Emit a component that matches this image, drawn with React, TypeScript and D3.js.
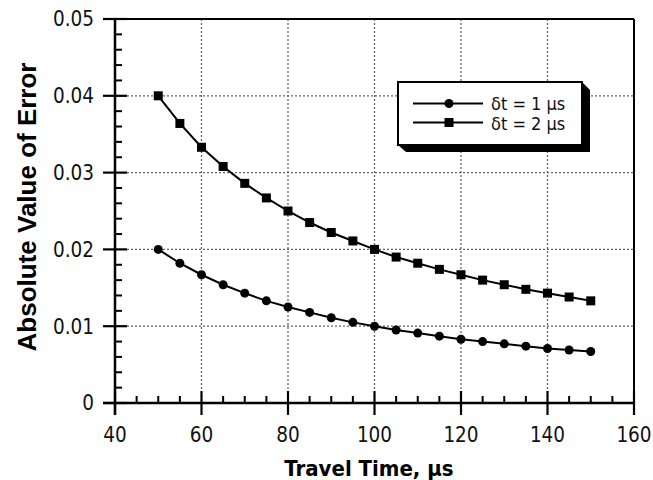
import React from "react";
import * as d3 from "d3";

const travelTime = [50, 55, 60, 65, 70, 75, 80, 85, 90, 95, 100, 105, 110, 115, 120, 125, 130, 135, 140, 145, 150];
const errDt1 = [0.02, 0.0182, 0.0167, 0.0154, 0.0143, 0.0133, 0.0125, 0.0118, 0.0111, 0.0105, 0.01, 0.0095, 0.0091, 0.0087, 0.0083, 0.008, 0.0077, 0.0074, 0.0071, 0.0069, 0.0067];
const errDt2 = [0.04, 0.0364, 0.0333, 0.0308, 0.0286, 0.0267, 0.025, 0.0235, 0.0222, 0.0211, 0.02, 0.019, 0.0182, 0.0174, 0.0167, 0.016, 0.0154, 0.0148, 0.0143, 0.0138, 0.0133];
const xTicks = [40, 60, 80, 100, 120, 140, 160];
const yTicks = [0, 0.01, 0.02, 0.03, 0.04, 0.05];
const yTickLabels = ["0", "0.01", "0.02", "0.03", "0.04", "0.05"];
const seriesNames = ["δt = 1 µs", "δt = 2 µs"];

const W = 653, H = 480;
const L = 115, R = 634, T = 19, B = 403;
const FONT = "'DejaVu Sans Condensed', 'DejaVu Sans', sans-serif";

export default function App() {
  const x = d3.scaleLinear().domain([40, 160]).range([L, R]);
  const y = d3.scaleLinear().domain([0, 0.05]).range([B, T]);
  const mk = d3.line<number>().x((_, i) => x(travelTime[i])).y((d) => y(d));
  const path1 = mk(errDt1) || "";
  const path2 = mk(errDt2) || "";
  const xMinor = d3.range(40, 160.001, 5).filter((v) => v % 20 !== 0);
  const yMinor = d3.range(0, 0.0501, 0.002).filter((v) => Math.abs(v / 0.01 - Math.round(v / 0.01)) > 1e-6);

  const lx0 = 398, ly0 = 82, lx1 = 582, ly1 = 145;
  return (
    <div style={{ position: "absolute", left: 0, top: 0 }}>
      <svg width={W} height={H} style={{ display: "block", background: "#fff" }}>
        {/* grid */}
        {xTicks.slice(1, -1).map((t) => (
          <line key={"gx" + t} x1={x(t)} x2={x(t)} y1={T} y2={B} stroke="#666" strokeWidth={1.3} strokeDasharray="2,2" />
        ))}
        {yTicks.slice(1, -1).map((t) => (
          <line key={"gy" + t} x1={L} x2={R} y1={y(t)} y2={y(t)} stroke="#666" strokeWidth={1.3} strokeDasharray="2,2" />
        ))}
        {/* frame */}
        <line x1={L - 12} x2={R} y1={T} y2={T} stroke="#000" strokeWidth={2} />
        <line x1={R} x2={R} y1={T} y2={B + 12} stroke="#000" strokeWidth={2} />
        <line x1={L} x2={L} y1={T} y2={B + 12} stroke="#000" strokeWidth={2.5} />
        <line x1={L - 12} x2={R} y1={B} y2={B} stroke="#000" strokeWidth={2.5} />
        {/* major ticks */}
        {xTicks.map((t) => (
          <line key={"xt" + t} x1={x(t)} x2={x(t)} y1={B - 12} y2={B + 12} stroke="#000" strokeWidth={2.2} />
        ))}
        {yTicks.map((t) => (
          <line key={"yt" + t} x1={L - 12} x2={L + 12} y1={y(t)} y2={y(t)} stroke="#000" strokeWidth={2.2} />
        ))}
        {xMinor.map((t) => (
          <line key={"xm" + t} x1={x(t)} x2={x(t)} y1={B - 7} y2={B} stroke="#000" strokeWidth={2} />
        ))}
        {yMinor.map((t) => (
          <line key={"ym" + t} x1={L} x2={L + 7} y1={y(t)} y2={y(t)} stroke="#000" strokeWidth={2} />
        ))}
        {/* tick labels */}
        {xTicks.map((t) => (
          <text key={"xl" + t} x={x(t)} y={442} textAnchor="middle" fontFamily={FONT} fontSize={20.5} fill="#111">
            {t}
          </text>
        ))}
        {yTicks.map((t, i) => (
          <text key={"yl" + t} x={94} y={y(t)} dy="0.36em" textAnchor="end" fontFamily={FONT} fontSize={20.5} fill="#111">
            {yTickLabels[i]}
          </text>
        ))}
        {/* axis titles */}
        <text x={369} y={476} textAnchor="middle" fontFamily={FONT} fontWeight="bold" fontSize={22} fill="#000">
          Travel Time, µs
        </text>
        <text transform={`translate(36,${207}) rotate(-90)`} textAnchor="middle" fontFamily="'Liberation Sans', Arial, sans-serif" fontWeight="bold" fontSize={26} fill="#000">
          Absolute Value of Error
        </text>
        {/* series */}
        <path d={path1} fill="none" stroke="#000" strokeWidth={2} />
        <path d={path2} fill="none" stroke="#000" strokeWidth={2} />
        {errDt1.map((v, i) => (
          <circle key={"c" + i} cx={x(travelTime[i])} cy={y(v)} r={4.5} fill="#000" />
        ))}
        {errDt2.map((v, i) => (
          <rect key={"s" + i} x={x(travelTime[i]) - 4.5} y={y(v) - 4.5} width={9} height={9} fill="#000" />
        ))}
        {/* legend */}
        <polygon points={`${lx1},${ly0} ${lx1 + 8},${ly0 + 8} ${lx1 + 8},${ly1 + 7} ${lx0 + 8},${ly1 + 7} ${lx0},${ly1}`} fill="#000" />
        <rect x={lx0} y={ly0} width={lx1 - lx0} height={ly1 - ly0} fill="#fff" stroke="#000" strokeWidth={2} />
        <line x1={413} x2={483} y1={103.5} y2={103.5} stroke="#000" strokeWidth={2} />
        <circle cx={449} cy={103.5} r={4.5} fill="#000" />
        <line x1={413} x2={483} y1={122.5} y2={122.5} stroke="#000" strokeWidth={2} />
        <rect x={444.5} y={118} width={9} height={9} fill="#000" />
        <text x={491} y={109.5} fontFamily={FONT} fontSize={18} fill="#111">{seriesNames[0]}</text>
        <text x={491} y={129.5} fontFamily={FONT} fontSize={18} fill="#111">{seriesNames[1]}</text>
      </svg>
    </div>
  );
}
